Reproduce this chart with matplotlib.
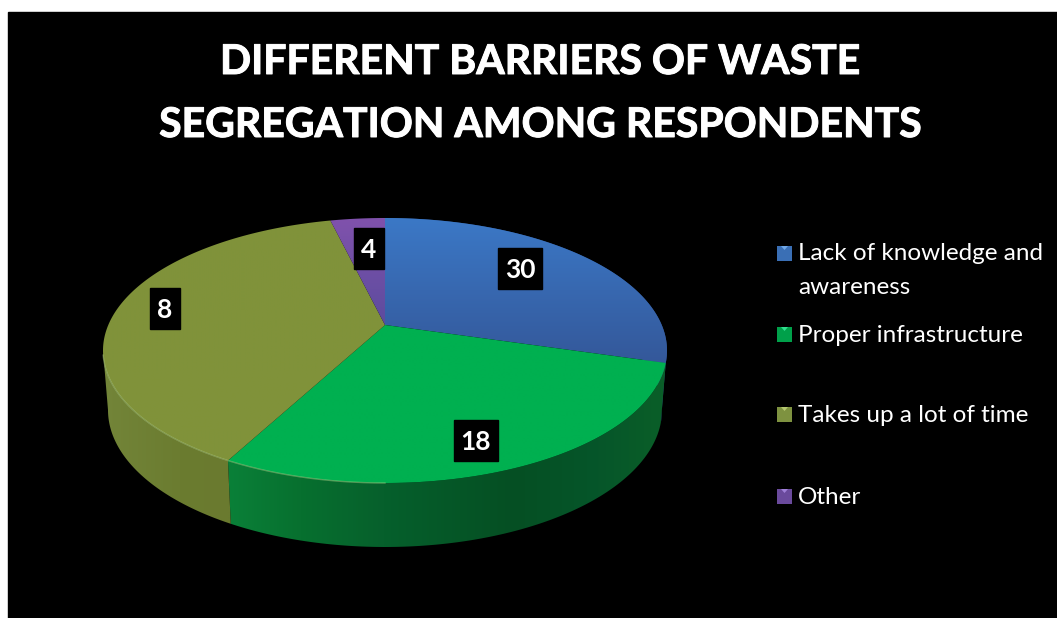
import numpy as np
import matplotlib
matplotlib.use("Agg")
import matplotlib.pyplot as plt
import matplotlib.patheffects as pe
from matplotlib.colors import to_rgb
from matplotlib.patches import Polygon, Rectangle

# Data
categories = ["Lack of knowledge and\nawareness", "Proper infrastructure", "Takes up a lot of time", "Other"]
data_labels = ["30", "18", "8", "4"]
# the drawn slices do not follow the printed labels, so shares are read separately (percent)
slice_shares = [26.5, 32.9, 37.5, 3.1]

title = "DIFFERENT BARRIERS OF WASTE\nSEGREGATION AMONG RESPONDENTS"

plt.rcParams["font.family"] = ["Lato", "DejaVu Sans"]

# Pie geometry in pixels
CX, CY, RX, RY = 385, 350.5, 282, 132.5
APEX_Y = 325
BOT_CY, BOT_RX, BOT_RY = 410, 277, 137


def rim(t, cy=CY, rx=RX, ry=RY):
    t = np.radians(t)
    return CX + rx * np.sin(t), cy - ry * np.cos(t)


def clipped_image(grad, verts, zorder):
    # paint a gradient image and clip it to a polygon
    im = ax.imshow(grad, extent=(verts[:, 0].min(), verts[:, 0].max(), verts[:, 1].max(), verts[:, 1].min()),
                   origin="upper", aspect="auto", interpolation="bilinear", zorder=zorder)
    poly = Polygon(verts, closed=True, transform=ax.transData, fc="none", ec="none")
    ax.add_patch(poly)
    im.set_clip_path(poly)


fig = plt.figure(figsize=(10.57, 6.18), dpi=100, facecolor="white")
ax = fig.add_axes([0, 0, 1, 1])
ax.axis("off")
ax.add_patch(Rectangle((8, 12), 1049, 606, color="black", zorder=0))

top_colors = [("#3B78C6", "#34589A"), ("#00B050", "#00B050"), ("#80933A", "#80923A"), ("#8052AC", "#5C4C9E")]
side_stops = [
    ([660, 670], ["#2A4A80", "#2A4A80"]),
    ([228, 300, 383, 513, 600, 660], ["#0A8038", "#07702F", "#06602C", "#054F23", "#06562A", "#0A5E28"]),
    ([103, 180, 228], ["#738539", "#6B7C30", "#6A7A2F"]),
]

edges = np.concatenate([[0], np.cumsum(slice_shares) * 3.6])

# Side wall: horizontal gradient clipped to the visible front of each slice
for i in range(3):
    ts = np.linspace(edges[i], min(edges[i + 1], 270), 200)
    x1, y1 = rim(ts)
    x2, y2 = rim(ts[::-1], BOT_CY, BOT_RX, BOT_RY)
    verts = np.column_stack([np.r_[x1, x2], np.r_[y1, y2]])
    xs_stop, cols = side_stops[i]
    rgb = np.array([to_rgb(c) for c in cols])
    xs = np.linspace(verts[:, 0].min(), verts[:, 0].max(), 128)
    grad = np.stack([np.interp(xs, xs_stop, rgb[:, k]) for k in range(3)], axis=-1)[None, :, :]
    clipped_image(grad, verts, 1)

# Top face: vertical colour gradient clipped to each slice
for i in range(4):
    ts = np.linspace(edges[i], edges[i + 1], 200)
    x, y = rim(ts)
    verts = np.column_stack([np.r_[CX, x], np.r_[APEX_Y, y]])
    c0, c1 = np.array(to_rgb(top_colors[i][0])), np.array(to_rgb(top_colors[i][1]))
    grad = np.linspace(0, 1, 64)[:, None, None] * (c1 - c0) + c0
    clipped_image(grad, verts, 2)

# Light highlight on the front-left edge only
ts = np.linspace(180, 268, 200)
x, y = rim(ts)
ax.plot(x, y, color="#B5D58A", lw=1.0, alpha=0.45, zorder=3)

# Data labels on black boxes
label_pos = [(520, 268.5), (475.5, 440.5), (165, 308.5), (369, 248.5)]
for lab, (lx, ly) in zip(data_labels, label_pos):
    w = 16 + 14 * len(lab)
    ax.add_patch(Rectangle((lx - w / 2, ly - 20.5), w, 41, color="black", zorder=4))
    ax.text(lx, ly + 1, lab, color="white", fontsize=19, fontweight="bold",
            ha="center", va="center", zorder=5)

# Legend
legend_y = [253, 334, 414, 496]
legend_colors = [("#3A6FB5", "#6FA8E8"), ("#00A04A", "#30E090"), ("#7E9240", "#B5C870"), ("#6A4A9C", "#A080D8")]
for cat, ly, (base, light) in zip(categories, legend_y, legend_colors):
    ax.add_patch(Rectangle((777, ly - 7.5), 15, 15, color=base, lw=0, zorder=4))
    ax.add_patch(Polygon([(781, ly - 7), (788, ly - 7), (784.5, ly - 3)], color=light, lw=0, zorder=5))
    lines = cat.split("\n")
    ax.text(798, ly + 7.5, lines[0], color="white", fontsize=17.5, va="baseline", ha="left", zorder=5)
    if len(lines) > 1:
        ax.text(798, ly + 40.5, lines[1], color="white", fontsize=17.5, va="baseline", ha="left", zorder=5)

# Title, slightly thickened to match the heavier original face
line1, line2 = title.split("\n")
for txt, base in [(line1, 74), (line2, 137)]:
    t = ax.text(540, base, txt, color="white", fontsize=29.5, fontweight="bold", ha="center", va="baseline", zorder=5)
    t.set_path_effects([pe.withStroke(linewidth=0.7, foreground="white")])

ax.set_xlim(0, 1057)
ax.set_ylim(618, 0)
fig.savefig("out.png", dpi=100, facecolor="white")
